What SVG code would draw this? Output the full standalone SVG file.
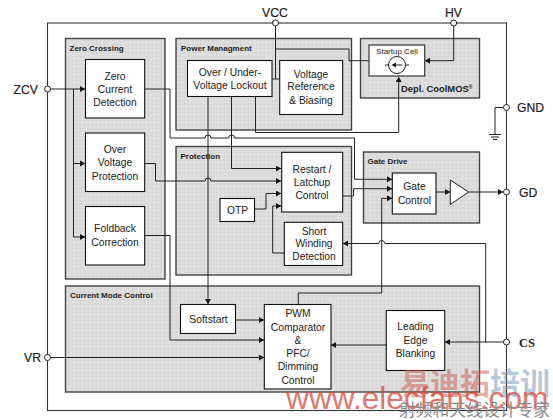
<svg xmlns="http://www.w3.org/2000/svg" width="553" height="420" viewBox="0 0 553 420">
<style>
.panel{fill:url(#stip);stroke:#444;stroke-width:1.4}
.box{fill:#fff;stroke:#111;stroke-width:1.1}
.t{font-family:"Liberation Sans",Arial,sans-serif;font-size:10.3px;fill:#222;text-anchor:middle}
.h{font-family:"Liberation Sans",Arial,sans-serif;font-size:8px;font-weight:700;fill:#222}
.pin{font-family:"Liberation Sans",Arial,sans-serif;font-size:12.2px;fill:#222;stroke:#222;stroke-width:.2}
.w{fill:none;stroke:#222;stroke-width:1}
.a{fill:none;stroke:#222;stroke-width:1;marker-end:url(#ar)}
.c{fill:#fff;stroke:#222;stroke-width:1}
</style>
<defs>
<marker id="ar" markerUnits="userSpaceOnUse" markerWidth="7" markerHeight="7" refX="5" refY="3" orient="auto"><path d="M0 0L5 3L0 6Z" fill="#111"/></marker>
<pattern id="stip" patternUnits="userSpaceOnUse" width="4" height="4"><rect width="4" height="4" fill="#dcdcdc"/><rect x="0" y="0" width="1" height="1" fill="#cfcfcf"/><rect x="2" y="2" width="1" height="1" fill="#e6e6e6"/></pattern>
</defs>
<rect width="553" height="420" fill="#fff"/>
<rect id="outer" x="47.5" y="23" width="459" height="387.5" fill="#fff" stroke="#333" stroke-width="1.1"/>

<g id="zero-crossing"><rect class="panel" x="65.5" y="38.5" width="99.5" height="240.5"/><text class="h" x="69.5" y="51">Zero Crossing</text></g>
<g id="power-management"><rect class="panel" x="176" y="38.5" width="175.5" height="91.5"/><text class="h" x="181" y="51">Power Managment</text></g>
<g id="startup-panel"><rect class="panel" x="360.5" y="38.5" width="119" height="59.5"/><text x="401" y="92" style="font-family:'Liberation Sans',Arial,sans-serif;font-size:9.4px;font-weight:700;fill:#222">Depl. CoolMOS<tspan dy="-3" font-size="5">®</tspan></text></g>
<g id="protection"><rect class="panel" x="176" y="146.5" width="175.5" height="128.5"/><text class="h" x="180.5" y="159">Protection</text></g>
<g id="gate-drive"><rect class="panel" x="363.5" y="152" width="116" height="71"/><text class="h" x="367.5" y="164">Gate Drive</text></g>
<g id="current-mode"><rect class="panel" x="65.5" y="286" width="414" height="106"/><text class="h" x="70" y="298">Current Mode Control</text></g>

<g id="connectors">
<path class="a" d="M50.5 89H85"/>
<path class="w" d="M73.5 89V237"/>
<path class="a" d="M73.5 163.5H85"/>
<path class="a" d="M73.5 237H85"/>
<path class="a" d="M144.7 89H170V138H205A3 3 0 0 1 211 138H228.500A3 3 0 0 1 234.500 138H354.500V179.300H392"/>
<path class="a" d="M144.700 163.500H155.500V181H205A3 3 0 0 1 211 181H281"/>
<path class="a" d="M144.700 235.500H170V340H264"/>
<path class="a" d="M208 96.500V304"/>
<path class="a" d="M231.500 96.500V168.500H281"/>
<path class="a" d="M255.500 96.500V132.500H398.700V77"/>
<path class="w" d="M275.500 26V79"/>
<path class="w" d="M272 79H279.700"/>
<path class="w" d="M275.500 49H349V60.700H369"/>
<path class="a" d="M453.700 26V60.700H425"/>
<path class="w" d="M503.500 107.500H495V134.500"/>
<path class="w" d="M489 134.500H501M491 137H499M493 139.500H497"/>
<path class="a" d="M436 192H450"/>
<path class="a" d="M468.700 192H503"/>
<path class="a" d="M342.700 196H353.500V188.700H392"/>
<path class="a" d="M298.300 304.500V293H381.700V198.300H392"/>
<path class="a" d="M485.700 342V243.500H384.700A3 3 0 0 0 378.700 243.500H343"/>
<path class="a" d="M503.500 342H445" stroke-width="1.500"/>
<path class="a" d="M386.300 345H331"/>
<path class="a" d="M284.300 253H272.700V206H281"/>
<path class="a" d="M254.500 209H266V193.500H281"/>
<path class="a" d="M235.500 320H264"/>
<path class="a" d="M50.500 357.500H264"/>
</g>

<g id="zero-current"><rect class="box" x="85.500" y="59.500" width="59.200" height="58.500"/><text class="t" x="115" y="80">Zero</text><text class="t" x="115" y="92.500">Current</text><text class="t" x="115" y="106">Detection</text></g>
<g id="over-voltage"><rect class="box" x="85.500" y="133" width="59.200" height="58.500"/><text class="t" x="115" y="153">Over</text><text class="t" x="115" y="166">Voltage</text><text class="t" x="115" y="179.500">Protection</text></g>
<g id="foldback"><rect class="box" x="85.500" y="206.500" width="59.200" height="58.500"/><text class="t" x="115" y="232">Foldback</text><text class="t" x="115" y="246">Correction</text></g>
<g id="uvlo"><rect class="box" x="187.500" y="60.500" width="84.500" height="36"/><text class="t" x="230" y="75.500">Over / Under-</text><text class="t" x="230" y="88.500">Voltage Lockout</text></g>
<g id="vref"><rect class="box" x="279.700" y="60.500" width="63" height="54"/><text class="t" x="311" y="77.500">Voltage</text><text class="t" x="311" y="90">Reference</text><text class="t" x="311" y="104">&amp; Biasing</text></g>
<g id="startup"><rect x="369" y="45" width="55.700" height="31" fill="#fff" stroke="#444" stroke-width="1.300"/><text x="397" y="54" style="font-family:'Liberation Sans',Arial,sans-serif;font-size:8px;fill:#222;text-anchor:middle">Startup Cell</text><circle cx="397" cy="65" r="8.500" fill="#fff" stroke="#222"/><path class="w" d="M385 65H388.500M405.500 65H409"/><path d="M402.500 65H395" fill="none" stroke="#222"/><path d="M391.500 65L396 62.500V67.500Z" fill="#111"/></g>
<g id="restart"><rect class="box" x="281.700" y="152.300" width="61" height="59.700"/><text class="t" x="312" y="172.500">Restart /</text><text class="t" x="312" y="185.500">Latchup</text><text class="t" x="312" y="199">Control</text></g>
<g id="otp"><rect class="box" x="220" y="198.500" width="34.500" height="23"/><text class="t" x="237.500" y="214">OTP</text></g>
<g id="short-winding"><rect class="box" x="284.300" y="222.300" width="58.400" height="43.200"/><text class="t" x="314" y="234.500">Short</text><text class="t" x="314" y="247">Winding</text><text class="t" x="314" y="259.500">Detection</text></g>
<g id="gate-control"><rect class="box" x="392.300" y="173" width="43.700" height="41"/><text class="t" x="414.500" y="190">Gate</text><text class="t" x="414.500" y="204">Control</text></g>
<g id="driver"><path d="M450.300 180L468.700 192L450.300 204.500Z" fill="#fff" stroke="#222"/></g>
<g id="softstart"><rect class="box" x="180.500" y="304.500" width="55" height="29"/><text class="t" x="208.500" y="322.500">Softstart</text></g>
<g id="pwm"><rect class="box" x="264.300" y="304.500" width="66.700" height="84.500"/><text class="t" x="298" y="317">PWM</text><text class="t" x="298" y="331">Comparator</text><text class="t" x="298" y="344">&amp;</text><text class="t" x="298" y="357">PFC/</text><text class="t" x="298" y="370">Dimming</text><text class="t" x="298" y="383.500">Control</text></g>
<g id="leb"><rect class="box" x="386.300" y="310.500" width="58.400" height="60"/><text class="t" x="415.500" y="330">Leading</text><text class="t" x="415.500" y="344">Edge</text><text class="t" x="415.500" y="357">Blanking</text></g>

<g id="pins">
<circle class="c" cx="47.500" cy="89" r="3"/><text class="pin" x="13.500" y="94">ZCV</text>
<circle class="c" cx="47.500" cy="357.500" r="3"/><text class="pin" x="24" y="361.500">VR</text>
<circle class="c" cx="275.500" cy="23" r="3"/><text class="pin" x="262" y="16.500">VCC</text>
<circle class="c" cx="453.700" cy="23" r="3"/><text class="pin" x="445" y="16.500">HV</text>
<circle class="c" cx="506.500" cy="107.500" r="3"/><text class="pin" x="517" y="112">GND</text>
<circle class="c" cx="506.500" cy="192" r="3"/><text class="pin" x="519" y="196.500">GD</text>
<circle class="c" cx="506.500" cy="342" r="3"/><text x="519" y="346.500" style="font-family:'Liberation Serif',serif;font-size:12.500px;font-weight:700;fill:#222">CS</text>
</g>

<g id="watermark">
<text x="400" y="394" style="font-family:'Noto Sans CJK SC',sans-serif;font-size:30px;font-weight:700;fill:#c85a50;fill-opacity:.5">易迪拓<tspan fill="#6f8fb5">培训</tspan></text>
<text x="286" y="408.500" style="font-family:'Liberation Sans',Arial,sans-serif;font-size:31.700px;fill:#d9483a;fill-opacity:.75">www.elecfans.com</text>
<text x="399" y="416" style="font-family:'Noto Sans CJK SC',sans-serif;font-size:16.800px;fill:#8a8a8a">射频和天线设计专家</text>
</g>
</svg>
